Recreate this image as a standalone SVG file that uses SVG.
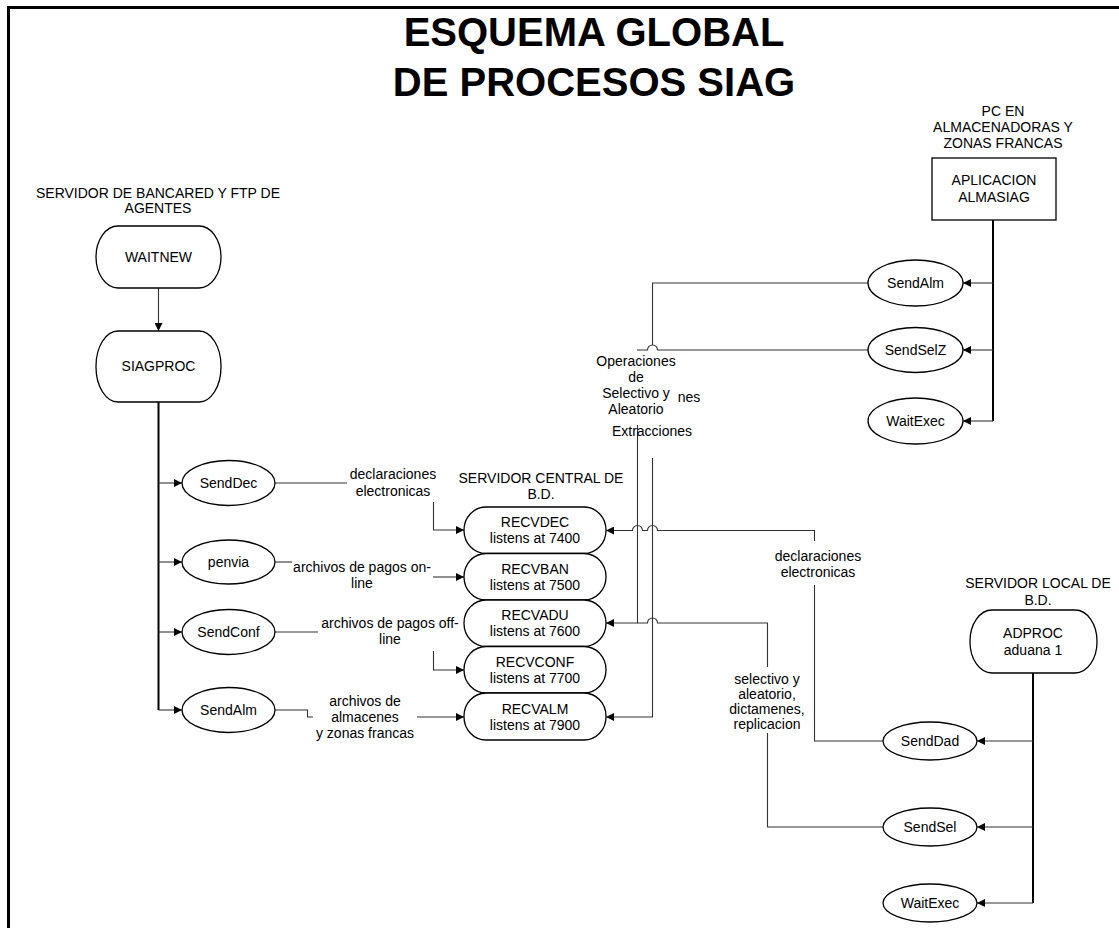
<svg xmlns="http://www.w3.org/2000/svg" width="1119" height="928" viewBox="0 0 1119 928">
  <style>
    text { font-family: "Liberation Sans", Arial, sans-serif; font-size: 14px; fill: #000; text-anchor: middle; }
    .title { font-size: 40px; font-weight: bold; }
    .node { fill: #fff; stroke: #000; stroke-width: 1.3; }
    .conn { fill: none; stroke: #333; stroke-width: 1.1; }
    .trunk { fill: none; stroke: #000; stroke-width: 2; }
    .frame { fill: none; stroke: #000; stroke-width: 3; }
  </style>
  <defs>
    <marker id="arrow" viewBox="0 0 10 10" refX="10" refY="5" markerWidth="8" markerHeight="8" markerUnits="userSpaceOnUse" orient="auto">
      <path d="M0,0 L10,5 L0,10 z" fill="#000"/>
    </marker>
  </defs>

  <rect width="1119" height="928" fill="#fff"/>
  <path class="frame" d="M8.5,928 V7.5 H1119"/>

  <text class="title" x="594" y="46">ESQUEMA GLOBAL</text>
  <text class="title" x="594" y="96">DE PROCESOS SIAG</text>

  <!-- group captions -->
  <g id="captions">
    <text x="158" y="198">SERVIDOR DE BANCARED Y FTP DE</text>
    <text x="158" y="213">AGENTES</text>
    <text x="541" y="483">SERVIDOR CENTRAL DE</text>
    <text x="541" y="499">B.D.</text>
    <text x="1003" y="116">PC EN</text>
    <text x="1003" y="132">ALMACENADORAS Y</text>
    <text x="1003" y="148">ZONAS FRANCAS</text>
    <text x="1038" y="588">SERVIDOR LOCAL DE</text>
    <text x="1038" y="605">B.D.</text>
  </g>

  <!-- connectors -->
  <g id="connectors">
    <!-- bancared server -->
    <path class="conn" d="M158.5,288 V331" marker-end="url(#arrow)"/>
    <path class="trunk" d="M158.5,402 V710"/>
    <path class="conn" d="M158.5,483 H182" marker-end="url(#arrow)"/>
    <path class="conn" d="M158.5,562 H182" marker-end="url(#arrow)"/>
    <path class="conn" d="M158.5,632 H182" marker-end="url(#arrow)"/>
    <path class="conn" d="M158.5,710 H182" marker-end="url(#arrow)"/>

    <path class="conn" d="M275,483 H347"/>
    <path class="conn" d="M433.5,502 V530 H464" marker-end="url(#arrow)"/>
    <path class="conn" d="M275,562 H292"/>
    <path class="conn" d="M433,577 H464" marker-end="url(#arrow)"/>
    <path class="conn" d="M275,632 H318"/>
    <path class="conn" d="M433.5,651 V670 H464" marker-end="url(#arrow)"/>
    <path class="conn" d="M275,710 H307.5 V717 H313"/>
    <path class="conn" d="M417,717 H464" marker-end="url(#arrow)"/>

    <!-- almasiag -->
    <path class="trunk" d="M993,220 V421"/>
    <path class="conn" d="M993,283 H963" marker-end="url(#arrow)"/>
    <path class="conn" d="M993,350 H963" marker-end="url(#arrow)"/>
    <path class="conn" d="M993,421 H963" marker-end="url(#arrow)"/>

    <!-- SendAlm (almasiag) to RECVALM -->
    <path class="conn" d="M868,283 H652.5 V345"/>
    <path class="conn" d="M652.5,458 V717 H606" marker-end="url(#arrow)"/>
    <!-- SendSelZ to RECVADU -->
    <path class="conn" d="M868,350 H657.5 A5,5 0 0 0 647.5,350 H637"/>
    <path class="conn" d="M637.5,425 V623 H606" marker-end="url(#arrow)"/>

    <!-- adproc -->
    <path class="trunk" d="M1033,673 V903"/>
    <path class="conn" d="M1033,741 H977" marker-end="url(#arrow)"/>
    <path class="conn" d="M1033,827 H977" marker-end="url(#arrow)"/>
    <path class="conn" d="M1033,903 H977" marker-end="url(#arrow)"/>

    <!-- SendDad to RECVDEC -->
    <path class="conn" d="M883,741 H814.5 V585"/>
    <path class="conn" d="M814.5,541 V530.5 H657.5 A5,5 0 0 0 647.5,530.5 H642.5 A5,5 0 0 0 632.5,530.5 H606" marker-end="url(#arrow)"/>
    <!-- SendSel to RECVADU -->
    <path class="conn" d="M883,827 H767.5 V733"/>
    <path class="conn" d="M767.5,667 V623 H657.5 A5,5 0 0 0 647.5,623 H637.5"/>
  </g>

  <!-- connector labels -->
  <g id="labels">
    <text x="393" y="479">declaraciones</text>
    <text x="393" y="496">electronicas</text>
    <text x="362" y="572">archivos de pagos on-</text>
    <text x="362" y="588">line</text>
    <text x="390" y="628">archivos de pagos off-</text>
    <text x="390" y="644">line</text>
    <text x="365" y="706">archivos de</text>
    <text x="365" y="722">almacenes</text>
    <text x="365" y="738">y zonas francas</text>
    <text x="636" y="366">Operaciones</text>
    <text x="636" y="382">de</text>
    <text x="636" y="398">Selectivo y</text>
    <text x="636" y="414">Aleatorio</text>
    <text x="689" y="402">nes</text>
    <text x="652" y="436">Extracciones</text>
    <text x="818" y="561">declaraciones</text>
    <text x="818" y="577">electronicas</text>
    <text x="767" y="684">selectivo y</text>
    <text x="767" y="699">aleatorio,</text>
    <text x="767" y="714">dictamenes,</text>
    <text x="767" y="729">replicacion</text>
  </g>

  <!-- bancared / ftp server processes -->
  <g id="waitnew">
    <rect class="node" x="96" y="226" width="125" height="62" rx="22" ry="31"/>
    <text x="158.5" y="262">WAITNEW</text>
  </g>
  <g id="siagproc">
    <rect class="node" x="96" y="331" width="125" height="71" rx="22" ry="35"/>
    <text x="158.5" y="371">SIAGPROC</text>
  </g>
  <g id="senddec">
    <ellipse class="node" cx="228.5" cy="483" rx="46.5" ry="22.5"/>
    <text x="228.5" y="488">SendDec</text>
  </g>
  <g id="penvia">
    <ellipse class="node" cx="228.5" cy="562" rx="46.5" ry="22"/>
    <text x="228.5" y="567">penvia</text>
  </g>
  <g id="sendconf">
    <ellipse class="node" cx="228.5" cy="632" rx="46.5" ry="22.5"/>
    <text x="228.5" y="637">SendConf</text>
  </g>
  <g id="sendalm-left">
    <ellipse class="node" cx="228.5" cy="710" rx="46.5" ry="22.5"/>
    <text x="228.5" y="715">SendAlm</text>
  </g>

  <!-- central database server -->
  <g id="recvdec">
    <rect class="node" x="464" y="507" width="142" height="46.5" rx="22" ry="23"/>
    <text x="535" y="527">RECVDEC</text>
    <text x="535" y="543">listens at 7400</text>
  </g>
  <g id="recvban">
    <rect class="node" x="464" y="553.5" width="142" height="46.5" rx="22" ry="23"/>
    <text x="535" y="574">RECVBAN</text>
    <text x="535" y="590">listens at 7500</text>
  </g>
  <g id="recvadu">
    <rect class="node" x="464" y="600" width="142" height="46.5" rx="22" ry="23"/>
    <text x="535" y="620">RECVADU</text>
    <text x="535" y="636">listens at 7600</text>
  </g>
  <g id="recvconf">
    <rect class="node" x="464" y="646.5" width="142" height="46.5" rx="22" ry="23"/>
    <text x="535" y="667">RECVCONF</text>
    <text x="535" y="683">listens at 7700</text>
  </g>
  <g id="recvalm">
    <rect class="node" x="464" y="693" width="142" height="47" rx="22" ry="23"/>
    <text x="535" y="714">RECVALM</text>
    <text x="535" y="730">listens at 7900</text>
  </g>

  <!-- warehouse PCs -->
  <g id="almasiag">
    <rect class="node" x="932" y="158" width="124" height="62"/>
    <text x="994" y="185">APLICACION</text>
    <text x="994" y="202">ALMASIAG</text>
  </g>
  <g id="sendalm-right">
    <ellipse class="node" cx="915.5" cy="283" rx="47.5" ry="23"/>
    <text x="915.5" y="288">SendAlm</text>
  </g>
  <g id="sendselz">
    <ellipse class="node" cx="915.5" cy="350" rx="47.5" ry="22.5"/>
    <text x="915.5" y="355">SendSelZ</text>
  </g>
  <g id="waitexec-top">
    <ellipse class="node" cx="915.5" cy="421" rx="47.5" ry="23"/>
    <text x="915.5" y="426">WaitExec</text>
  </g>

  <!-- local database server -->
  <g id="adproc">
    <rect class="node" x="970" y="610" width="127" height="63" rx="22" ry="31"/>
    <text x="1033" y="638">ADPROC</text>
    <text x="1033" y="655">aduana 1</text>
  </g>
  <g id="senddad">
    <ellipse class="node" cx="930" cy="741" rx="47" ry="19"/>
    <text x="930" y="746">SendDad</text>
  </g>
  <g id="sendsel">
    <ellipse class="node" cx="930" cy="827" rx="47" ry="19"/>
    <text x="930" y="832">SendSel</text>
  </g>
  <g id="waitexec-bottom">
    <ellipse class="node" cx="930" cy="903" rx="47" ry="19"/>
    <text x="930" y="908">WaitExec</text>
  </g>
</svg>
